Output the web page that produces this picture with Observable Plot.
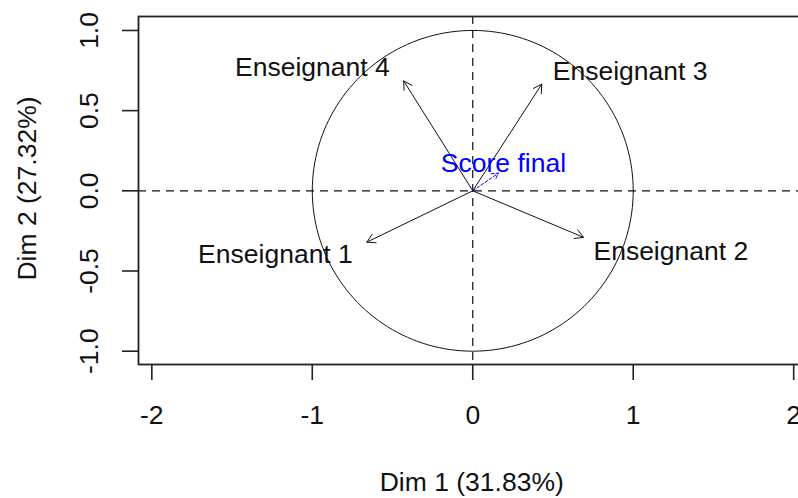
<!DOCTYPE html>
<html><head><meta charset="utf-8">
<script src="https://cdn.jsdelivr.net/npm/d3@7"></script>
<script src="https://cdn.jsdelivr.net/npm/@observablehq/plot@0.6"></script>
<style>html,body{margin:0;padding:0;background:#fff;overflow:hidden;width:798px;height:498px}</style>
</head><body><div id="chart"></div>
<script>
const variables = ["Enseignant 1", "Enseignant 2", "Enseignant 3", "Enseignant 4", "Score final"];
const dim1 = [-0.66, 0.69, 0.43, -0.43, 0.16];
const dim2 = [-0.32, -0.29, 0.665, 0.685, 0.11];
const supplementary = [false, false, false, false, true];
const xTicks = [-2, -1, 0, 1, 2];
const xTickLabels = ["-2", "-1", "0", "1", "2"];
const yTicks = [-1, -0.5, 0, 0.5, 1];
const yTickLabels = ["-1.0", "-0.5", "0.0", "0.5", "1.0"];
const xTitle = "Dim 1 (31.83%)";
const yTitle = "Dim 2 (27.32%)";

const rows = variables.map((name, i) => ({name, x: dim1[i], y: dim2[i], supp: supplementary[i]}));
const active = rows.filter(d => !d.supp);
const supp = rows.filter(d => d.supp);
// unit correlation circle (geometric guide)
const circle = d3.range(0, 361, 2).map(a => ({x: Math.cos(a * Math.PI / 180), y: Math.sin(a * Math.PI / 180)}));

const FS = 26.5;
const chart = Plot.plot({
  width: 798,
  height: 498,
  marginLeft: 138,
  marginRight: -8.5,
  marginTop: 16,
  marginBottom: 134,
  x: {domain: [-2.083, 2.083], label: null},
  y: {domain: [-1.083, 1.087], label: null},
  style: {fontFamily: "'Liberation Sans', Arial, sans-serif", fontSize: FS + "px", background: "white", color: "#111", overflow: "visible"},
  marks: [
    Plot.line(circle, {x: "x", y: "y", stroke: "#111", strokeWidth: 1}),
    Plot.ruleY([0], {stroke: "#111", strokeWidth: 1.2, strokeDasharray: "8,6"}),
    Plot.ruleX([0], {stroke: "#111", strokeWidth: 1.2, strokeDasharray: "8,6"}),
    Plot.arrow(active, {x1: 0, y1: 0, x2: "x", y2: "y", stroke: "#111", strokeWidth: 1, headLength: 14}),
    Plot.arrow(supp, {x1: 0, y1: 0, x2: "x", y2: "y", stroke: "blue", strokeWidth: 1, headLength: 11, strokeDasharray: "3,2"}),
    Plot.text(active.filter(d => d.x < 0 && d.y > 0), {x: "x", y: "y", text: "name", textAnchor: "end", dx: -14, dy: -13, fill: "#111"}),
    Plot.text(active.filter(d => d.x < 0 && d.y < 0), {x: "x", y: "y", text: "name", textAnchor: "end", dx: -14, dy: 12, fill: "#111"}),
    Plot.text(active.filter(d => d.x > 0 && d.y > 0), {x: "x", y: "y", text: "name", textAnchor: "start", dx: 11, dy: -13, fill: "#111"}),
    Plot.text(active.filter(d => d.x > 0 && d.y < 0), {x: "x", y: "y", text: "name", textAnchor: "start", dx: 10, dy: 14, fill: "#111"}),
    Plot.text(supp, {x: "x", y: "y", text: "name", textAnchor: "middle", dx: 5, dy: -10, fill: "blue"}),
    Plot.frame({stroke: "#222", strokeWidth: 1.8}),
    Plot.axisX(xTicks, {tickSize: 16, tickPadding: 25, tickFormat: (d, i) => xTickLabels[i], fontSize: FS, stroke: "#222", strokeWidth: 1.6, label: null}),
    Plot.axisY(yTicks, {tickSize: 16, tickFormat: () => "", stroke: "#222", strokeWidth: 1.6, label: null}),
    Plot.text(yTicks, {y: d => d, text: (d, i) => yTickLabels[i], frameAnchor: "left", textAnchor: "middle", lineAnchor: "middle", dx: -49, rotate: -90, fill: "#111"}),
    Plot.text([yTitle], {text: d => d, frameAnchor: "left", textAnchor: "middle", lineAnchor: "middle", dx: -111, dy: -2, rotate: -90, fill: "#111"}),
    Plot.text([xTitle], {text: d => d, frameAnchor: "bottom", textAnchor: "middle", lineAnchor: "middle", dx: -1, dy: 118, fill: "#111"})
  ]
});
document.getElementById("chart").appendChild(chart);
</script>
</body></html>
